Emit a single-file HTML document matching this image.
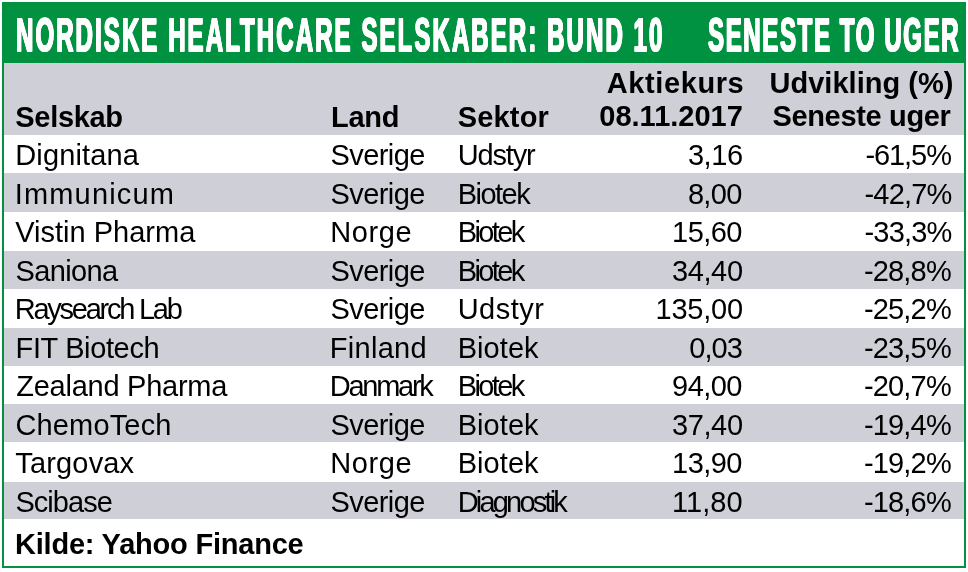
<!DOCTYPE html>
<html><head><meta charset="utf-8">
<style>
html,body{margin:0;padding:0;background:#fff;}
body{width:968px;height:572px;position:relative;overflow:hidden;font-family:"Liberation Sans",sans-serif;color:#000;}
#w{position:absolute;left:0;top:0;width:968px;height:572px;will-change:transform;}
.box{position:absolute;left:2px;top:2px;width:960px;height:562px;border:2px solid #009240;}
.hdr{position:absolute;left:2px;top:2px;width:964px;height:61px;background:#009240;}
.t{position:absolute;white-space:nowrap;line-height:1;}
.ttl{position:absolute;white-space:nowrap;color:#fff;font-weight:bold;font-size:49px;line-height:1;transform-origin:0 0;text-shadow:1px 0 0 #fff,-1px 0 0 #fff,0 1px 0 #fff,1px 1px 0 #fff,-1px 1px 0 #fff;}
.g{position:absolute;left:4px;width:960px;background:#cfcfd8;}
</style></head><body>
<div id="w">
<div class="box"></div>
<div class="hdr"></div>
<div class="ttl" style="left:16.00px;top:10.00px;letter-spacing:4.259px;transform:scaleX(0.49);">NORDISKE HEALTHCARE SELSKABER: BUND 10</div>
<div class="ttl" style="left:707.72px;top:10.00px;letter-spacing:3.342px;transform:scaleX(0.49);">SENESTE TO UGER</div>
<div class="g" style="top:63px;height:72px;"></div>
<div class="g" style="top:173.40px;height:38.60px;"></div>
<div class="g" style="top:250.50px;height:38.20px;"></div>
<div class="g" style="top:327.50px;height:38.10px;"></div>
<div class="g" style="top:404.40px;height:38.10px;"></div>
<div class="g" style="top:481.50px;height:37.50px;"></div>
<div class="t" style="left:15.34px;top:102.60px;font-size:29px;font-weight:bold;letter-spacing:-0.320px;">Selskab</div>
<div class="t" style="left:330.92px;top:102.60px;font-size:29px;font-weight:bold;letter-spacing:-0.213px;">Land</div>
<div class="t" style="left:457.76px;top:102.60px;font-size:29px;font-weight:bold;letter-spacing:0.160px;">Sektor</div>
<div class="t" style="left:606.76px;top:68.60px;font-size:29px;font-weight:bold;letter-spacing:0.600px;">Aktiekurs</div>
<div class="t" style="left:599.30px;top:102.30px;font-size:29px;font-weight:bold;">08.11.2017</div>
<div class="t" style="left:769.54px;top:68.60px;font-size:29px;font-weight:bold;letter-spacing:0.013px;">Udvikling (%)</div>
<div class="t" style="left:772.42px;top:102.30px;font-size:29px;font-weight:bold;letter-spacing:-0.335px;">Seneste uger</div>
<div class="t" style="left:15.28px;top:141.10px;font-size:29px;letter-spacing:0.120px;">Dignitana</div>
<div class="t" style="left:330.46px;top:141.10px;font-size:29px;letter-spacing:-0.560px;">Sverige</div>
<div class="t" style="left:457.66px;top:141.10px;font-size:29px;letter-spacing:-1.152px;">Udstyr</div>
<div class="t" style="left:687.92px;top:141.10px;font-size:29px;letter-spacing:-0.427px;">3,16</div>
<div class="t" style="left:865.38px;top:141.10px;font-size:29px;letter-spacing:-1.056px;">-61,5%</div>
<div class="t" style="left:14.70px;top:179.60px;font-size:29px;letter-spacing:1.180px;">Immunicum</div>
<div class="t" style="left:330.46px;top:179.60px;font-size:29px;letter-spacing:-0.560px;">Sverige</div>
<div class="t" style="left:457.66px;top:179.60px;font-size:29px;letter-spacing:-1.504px;">Biotek</div>
<div class="t" style="left:687.92px;top:179.60px;font-size:29px;letter-spacing:-0.693px;">8,00</div>
<div class="t" style="left:864.50px;top:179.60px;font-size:29px;letter-spacing:-0.800px;">-42,7%</div>
<div class="t" style="left:15.30px;top:218.10px;font-size:29px;">Vistin Pharma</div>
<div class="t" style="left:330.20px;top:218.10px;font-size:29px;letter-spacing:0.640px;">Norge</div>
<div class="t" style="left:457.66px;top:218.10px;font-size:29px;letter-spacing:-2.624px;">Biotek</div>
<div class="t" style="left:672.08px;top:218.10px;font-size:29px;letter-spacing:-0.560px;">15,60</div>
<div class="t" style="left:864.50px;top:218.10px;font-size:29px;letter-spacing:-0.800px;">-33,3%</div>
<div class="t" style="left:15.50px;top:256.60px;font-size:29px;letter-spacing:-0.613px;">Saniona</div>
<div class="t" style="left:330.46px;top:256.60px;font-size:29px;letter-spacing:-0.560px;">Sverige</div>
<div class="t" style="left:457.66px;top:256.60px;font-size:29px;letter-spacing:-2.624px;">Biotek</div>
<div class="t" style="left:671.88px;top:256.60px;font-size:29px;letter-spacing:-0.360px;">34,40</div>
<div class="t" style="left:863.96px;top:256.60px;font-size:29px;letter-spacing:-0.832px;">-28,8%</div>
<div class="t" style="left:14.78px;top:295.10px;font-size:29px;letter-spacing:-2.253px;">Raysearch Lab</div>
<div class="t" style="left:330.46px;top:295.10px;font-size:29px;letter-spacing:-0.560px;">Sverige</div>
<div class="t" style="left:457.66px;top:295.10px;font-size:29px;letter-spacing:0.480px;">Udstyr</div>
<div class="t" style="left:655.62px;top:295.10px;font-size:29px;letter-spacing:-0.256px;">135,00</div>
<div class="t" style="left:863.96px;top:295.10px;font-size:29px;letter-spacing:-0.832px;">-25,2%</div>
<div class="t" style="left:15.58px;top:333.60px;font-size:29px;letter-spacing:-0.368px;">FIT Biotech</div>
<div class="t" style="left:329.74px;top:333.60px;font-size:29px;letter-spacing:0.293px;">Finland</div>
<div class="t" style="left:457.66px;top:333.60px;font-size:29px;letter-spacing:0.064px;">Biotek</div>
<div class="t" style="left:689.26px;top:333.60px;font-size:29px;letter-spacing:-0.907px;">0,03</div>
<div class="t" style="left:863.96px;top:333.60px;font-size:29px;letter-spacing:-0.832px;">-23,5%</div>
<div class="t" style="left:16.30px;top:372.10px;font-size:29px;letter-spacing:-0.258px;">Zealand Pharma</div>
<div class="t" style="left:329.74px;top:372.10px;font-size:29px;letter-spacing:-2.267px;">Danmark</div>
<div class="t" style="left:457.66px;top:372.10px;font-size:29px;letter-spacing:-2.624px;">Biotek</div>
<div class="t" style="left:672.08px;top:372.10px;font-size:29px;letter-spacing:-0.560px;">94,00</div>
<div class="t" style="left:863.96px;top:372.10px;font-size:29px;letter-spacing:-0.832px;">-20,7%</div>
<div class="t" style="left:15.42px;top:410.60px;font-size:29px;letter-spacing:0.160px;">ChemoTech</div>
<div class="t" style="left:330.46px;top:410.60px;font-size:29px;letter-spacing:-0.560px;">Sverige</div>
<div class="t" style="left:457.66px;top:410.60px;font-size:29px;letter-spacing:0.064px;">Biotek</div>
<div class="t" style="left:671.88px;top:410.60px;font-size:29px;letter-spacing:-0.360px;">37,40</div>
<div class="t" style="left:863.96px;top:410.60px;font-size:29px;letter-spacing:-0.832px;">-19,4%</div>
<div class="t" style="left:15.30px;top:449.10px;font-size:29px;letter-spacing:0.160px;">Targovax</div>
<div class="t" style="left:330.20px;top:449.10px;font-size:29px;letter-spacing:0.640px;">Norge</div>
<div class="t" style="left:457.66px;top:449.10px;font-size:29px;letter-spacing:0.064px;">Biotek</div>
<div class="t" style="left:672.08px;top:449.10px;font-size:29px;letter-spacing:-0.560px;">13,90</div>
<div class="t" style="left:863.96px;top:449.10px;font-size:29px;letter-spacing:-0.832px;">-19,2%</div>
<div class="t" style="left:15.42px;top:487.60px;font-size:29px;letter-spacing:-0.960px;">Scibase</div>
<div class="t" style="left:330.46px;top:487.60px;font-size:29px;letter-spacing:-0.560px;">Sverige</div>
<div class="t" style="left:457.66px;top:487.60px;font-size:29px;letter-spacing:-2.809px;">Diagnostik</div>
<div class="t" style="left:672.08px;top:487.60px;font-size:29px;letter-spacing:0.040px;">11,80</div>
<div class="t" style="left:863.96px;top:487.60px;font-size:29px;letter-spacing:-0.832px;">-18,6%</div>
<div class="t" style="left:15.00px;top:529.50px;font-size:29px;font-weight:bold;letter-spacing:-0.211px;">Kilde: Yahoo Finance</div>
</div>
</body></html>
